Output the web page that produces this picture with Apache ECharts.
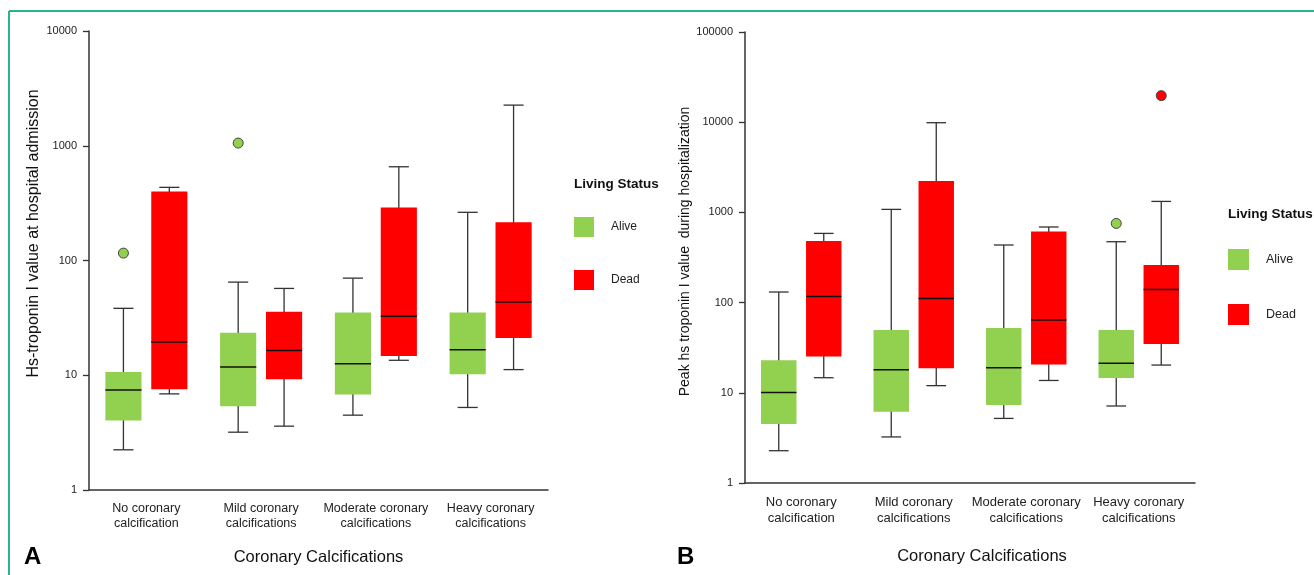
<!DOCTYPE html>
<html>
<head>
<meta charset="utf-8">
<script src="https://cdn.jsdelivr.net/npm/echarts@6.0.0/dist/echarts.min.js"></script>
<style>
    html, body { margin: 0; padding: 0; background: #fff; }
    #chart { width: 1314px; height: 575px; }
</style>
</head>
<body>
<div id="chart"></div>
<script>
// categories on both x axes
const categories = [
    "No coronary\ncalcification",
    "Mild coronary\ncalcifications",
    "Moderate coronary\ncalcifications",
    "Heavy coronary\ncalcifications",
]
const seriesNames = ["Alive", "Dead"]

// y axis ticks (log)
const ticksA = [1, 10, 100, 1000, 10000]
const ticksB = [1, 10, 100, 1000, 10000, 100000]

// A: hs-troponin I at admission, [min, Q1, median, Q3, max]
const aliveAdmission = [
    [2.24, 4.04, 7.45, 10.7, 38.3],
    [3.19, 5.38, 11.8, 23.5, 64.8],
    [4.49, 6.8, 12.6, 35.3, 70.2],
    [5.24, 10.2, 16.7, 35.3, 263],
]
const deadAdmission = [
    [6.88, 7.55, 19.5, 400, 434],
    [3.6, 9.23, 16.4, 35.8, 57.1],
    [13.5, 14.7, 32.6, 289, 656],
    [11.2, 21.1, 43.4, 215, 2260],
]
// outliers, [category index, value]
const aliveAdmissionOut = [[0, 116], [1, 1055]]
const deadAdmissionOut = []

// B: peak hs-troponin I during hospitalization
const alivePeak = [
    [2.28, 4.51, 10.1, 22.9, 131],
    [3.24, 6.17, 18.0, 49.7, 1080],
    [5.2, 7.33, 19.0, 52.3, 435],
    [7.14, 14.6, 21.2, 49.7, 473],
]
const deadPeak = [
    [14.7, 25.3, 117, 482, 585],
    [12.0, 18.7, 111, 2230, 9870],
    [13.7, 20.6, 64.1, 616, 689],
    [20.3, 34.8, 140, 261, 1324],
]
const alivePeakOut = [[3, 755]]
const deadPeakOut = [[3, 19700]]

const FONT = "'Liberation Sans', Arial, sans-serif"
const GREEN = "#92d050"
const RED = "#ff0000"
const INK = "#333"

function boxSeries(name, rows, color, shift, idx) {
    return {
        type: "custom",
        name,
        xAxisIndex: idx,
        yAxisIndex: idx,
        itemStyle: { color },
        encode: { x: 0, y: [1, 2, 3, 4, 5] },
        data: rows.map((r, i) => [i].concat(r)),
        renderItem(params, api) {
            const cat = api.value(0)
            const band = api.size([1, 1], [cat, 1])[0]
            const cx = api.coord([cat, api.value(3)])[0] + shift * band
            const w = band * 0.315
            const cap = band * 0.175
            const y = [1, 2, 3, 4, 5].map((d) => api.coord([cat, api.value(d)])[1])
            const line = { stroke: INK, lineWidth: 1.3 }
            return {
                type: "group",
                children: [
                    { type: "line", shape: { x1: cx, y1: y[0], x2: cx, y2: y[4] }, style: line },
                    { type: "line", shape: { x1: cx - cap / 2, y1: y[0], x2: cx + cap / 2, y2: y[0] }, style: line },
                    { type: "line", shape: { x1: cx - cap / 2, y1: y[4], x2: cx + cap / 2, y2: y[4] }, style: line },
                    { type: "rect", shape: { x: cx - w / 2, y: y[3], width: w, height: y[1] - y[3] }, style: { fill: color } },
                    { type: "line", shape: { x1: cx - w / 2, y1: y[2], x2: cx + w / 2, y2: y[2] }, style: { stroke: "#111", lineWidth: 1.5 } },
                ],
            }
        },
    }
}

function outlierSeries(name, points, color, shift, idx) {
    return {
        type: "custom",
        name,
        xAxisIndex: idx,
        yAxisIndex: idx,
        itemStyle: { color },
        encode: { x: 0, y: 1 },
        data: points,
        renderItem(params, api) {
            const cat = api.value(0)
            const band = api.size([1, 1], [cat, 1])[0]
            const p = api.coord([cat, api.value(1)])
            return {
                type: "circle",
                shape: { cx: p[0] + shift * band, cy: p[1], r: 5 },
                style: { fill: color, stroke: "#444", lineWidth: 1 },
            }
        },
    }
}

function xAxis(idx, fontSize, lineHeight, margin, nameGap, namePad) {
    return {
        type: "category",
        gridIndex: idx,
        data: categories,
        boundaryGap: true,
        axisLine: { lineStyle: { color: INK, width: 1.5 } },
        axisTick: { alignWithLabel: true, length: 6, lineStyle: { color: INK, width: 1.3 } },
        axisLabel: { fontSize, lineHeight, margin, color: "#222", fontFamily: FONT, interval: 0 },
        splitLine: { show: false },
        name: "Coronary Calcifications",
        nameLocation: "middle",
        nameGap,
        nameTextStyle: { fontSize: 16.5, color: "#111", fontFamily: FONT, padding: namePad },
    }
}

function yAxis(idx, ticks, name, fontSize, nameGap, namePad) {
    return {
        type: "log",
        logBase: 10,
        gridIndex: idx,
        min: ticks[0],
        max: ticks[ticks.length - 1],
        axisLine: { show: true, lineStyle: { color: INK, width: 1.5 } },
        axisTick: { show: true, length: 6, lineStyle: { color: INK, width: 1.3 } },
        axisLabel: { fontSize: 11, margin: 12, color: "#222", fontFamily: FONT, formatter: (v) => String(Math.round(v)) },
        splitLine: { show: false },
        name,
        nameLocation: "middle",
        nameGap,
        nameTextStyle: { fontSize, color: "#111", fontFamily: FONT, padding: namePad },
    }
}

const legendText = (size) => ({ fontSize: size, color: "#222", fontFamily: FONT, padding: [0, 0, 0, 12] })
const headText = { fontSize: 13.5, fontWeight: "bold", color: "#111", fontFamily: FONT }
const letterText = { fontSize: 24, fontWeight: "bold", color: "#000", fontFamily: FONT }

const chart = echarts.init(document.getElementById("chart"), null, { renderer: "canvas" })

const series = [
    boxSeries(seriesNames[0], aliveAdmission, GREEN, -0.2, 0),
    boxSeries(seriesNames[1], deadAdmission, RED, 0.2, 0),
    outlierSeries(seriesNames[0], aliveAdmissionOut, GREEN, -0.2, 0),
    boxSeries(seriesNames[0], alivePeak, GREEN, -0.2, 1),
    boxSeries(seriesNames[1], deadPeak, RED, 0.2, 1),
    outlierSeries(seriesNames[0], alivePeakOut, GREEN, -0.2, 1),
    outlierSeries(seriesNames[1], deadPeakOut, RED, 0.2, 1),
]
if (deadAdmissionOut.length) series.push(outlierSeries(seriesNames[1], deadAdmissionOut, RED, 0.2, 0))

chart.setOption({
    animation: false,
    textStyle: { fontFamily: FONT },
    grid: [
        { left: 89, top: 31, width: 459, height: 459 },
        { left: 745, top: 32, width: 450, height: 451 },
    ],
    xAxis: [
        xAxis(0, 12.5, 15, 11, 59, [0, 0, 0, 0]),
        xAxis(1, 13, 16, 11, 65, [0, 0, 0, 24]),
    ],
    yAxis: [
        yAxis(0, ticksA, "Hs-troponin I value at hospital admission", 16, 47, [0, 0, 0, 54]),
        yAxis(1, ticksB, "Peak hs troponin I value  during hospitalization", 14, 52, [0, 0, 0, 12]),
    ],
    legend: [
        { left: 574, top: 217, padding: 0, orient: "vertical", icon: "rect", itemWidth: 20, itemHeight: 20, itemGap: 33, data: seriesNames, textStyle: legendText(12) },
        { left: 1228, top: 249, padding: 0, orient: "vertical", icon: "rect", itemWidth: 21, itemHeight: 21, itemGap: 34, data: seriesNames, textStyle: legendText(12.5) },
    ],
    title: [
        { text: "Living Status", left: 574, top: 177, padding: 0, textStyle: headText },
        { text: "Living Status", left: 1228, top: 207, padding: 0, textStyle: headText },
        { text: "A", left: 24, top: 545, padding: 0, textStyle: letterText },
        { text: "B", left: 677, top: 545, padding: 0, textStyle: letterText },
    ],
    graphic: [
        // teal frame (top and left edges only are in view)
        { type: "line", shape: { x1: 9, y1: 11, x2: 1314, y2: 11 }, style: { stroke: "#2bb38f", lineWidth: 2 } },
        { type: "line", shape: { x1: 9, y1: 11, x2: 9, y2: 575 }, style: { stroke: "#2bb38f", lineWidth: 2 } },
    ],
    series,
})
</script>
</body>
</html>
